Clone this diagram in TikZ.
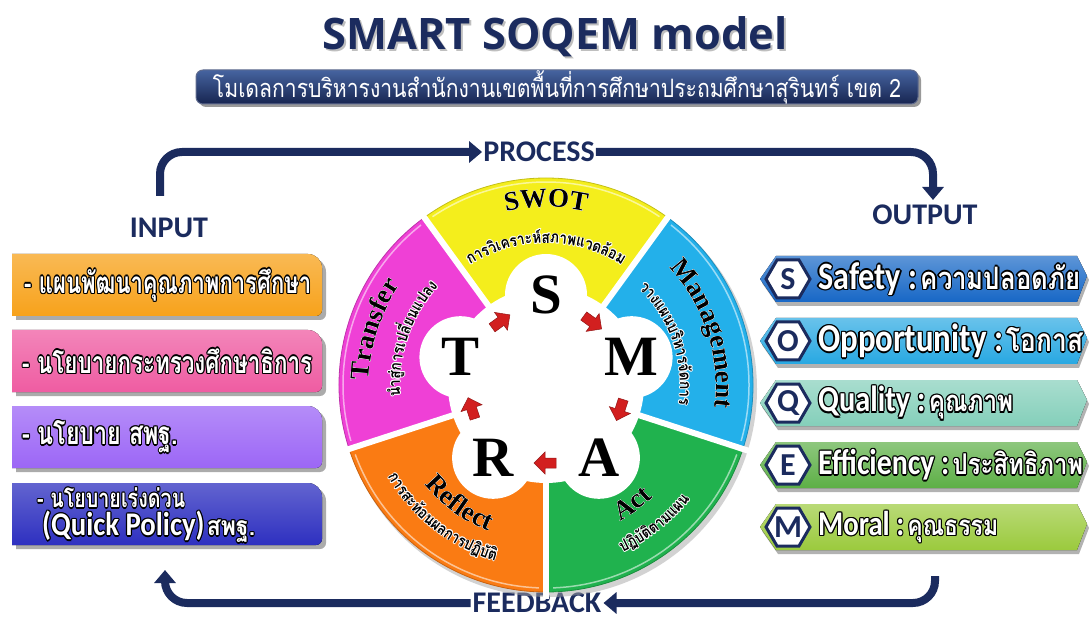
\documentclass[tikz,border=0pt]{standalone}
\usepackage{graphicx}
\usepackage{fontspec}
\usetikzlibrary{arrows.meta,calc,decorations.text}
\setmainfont{Liberation Serif}
\newfontfamily\calf{Carlito}
\newfontfamily\thaif[Script=Thai]{Loma}
\newfontfamily\opf{Open Sans}
\definecolor{navy}{HTML}{1B2B5E}
\definecolor{segY}{HTML}{F4EE1C}
\definecolor{segB}{HTML}{23B0EA}
\definecolor{segG}{HTML}{20B24E}
\definecolor{segO}{HTML}{FA7B13}
\definecolor{segP}{HTML}{EF40D6}
\definecolor{arrowred}{HTML}{D21F1F}
\definecolor{inO}{HTML}{F7A21B}
\definecolor{inP}{HTML}{EF5CA2}
\definecolor{inV}{HTML}{9C66F6}
\definecolor{inB}{HTML}{2E30C0}
\definecolor{oS}{HTML}{1767C6}
\definecolor{oO}{HTML}{28A8E2}
\definecolor{oQ}{HTML}{84CFBA}
\definecolor{oE}{HTML}{5DAF46}
\definecolor{oM}{HTML}{9BCA3D}

\newlength\hw \setlength\hw{1.2pt}
\newcommand\halo[3]{\leavevmode
 \rlap{\color{#1}\kern\hw #3}%
 \rlap{\color{#1}\kern-\hw #3}%
 \rlap{\color{#1}\raisebox{\hw}{#3}}%
 \rlap{\color{#1}\raisebox{-\hw}{#3}}%
 \rlap{\color{#1}\kern.7\hw\raisebox{.7\hw}{#3}}%
 \rlap{\color{#1}\kern-.7\hw\raisebox{.7\hw}{#3}}%
 \rlap{\color{#1}\kern.7\hw\raisebox{-.7\hw}{#3}}%
 \rlap{\color{#1}\kern-.7\hw\raisebox{-.7\hw}{#3}}%
 {\color{#2}#3}}

\makeatletter
\newcommand\dimnum[1]{\strip@pt#1}
\makeatother
\newdimen\arcw \newdimen\arctot
\newcommand\subf{\thaif\bfseries\fontsize{16}{16}\selectfont}
\newcommand\subbox[1]{\scalebox{0.85}[1]{\subf #1}}
\newcommand\segf{\bfseries\fontsize{27}{27}\selectfont}
% #1 radius, #2 mid angle, #3 dir (1 ccw tops inward, -1 cw tops outward), #4 chunks
\newcommand\thaiarc[4]{%
  \global\arctot=0pt
  \foreach \tch in {#4}{\path node[inner sep=0pt] at (0,0) {\setbox0=\hbox{\subbox{\tch}}\global\advance\arctot by \wd0};}%
  \edef\totnum{\dimnum\arctot}%
  \pgfmathsetmacro\arcstart{#2 - (#3)*(\totnum/2)/(#1)*180/pi}%
  \global\let\arccur\arcstart
  \foreach \tch in {#4}{%
    \path node[inner sep=0pt] at (0,0) {\setbox0=\hbox{\subbox{\tch}}\global\arcw=\wd0};
    \edef\wnum{\dimnum\arcw}%
    \pgfmathsetmacro\amid{\arccur + (#3)*(\wnum/2)/(#1)*180/pi}%
    \pgfmathsetmacro\arot{\amid + (#3)*90}%
    \node[anchor=base, inner sep=0pt, rotate=\arot] at ($(C)+(\amid:#1)$) {\setlength\hw{0.9pt}\halo{white}{black}{\subbox{\tch}}};
    \pgfmathsetmacro\anext{\arccur + (#3)*(\wnum)/(#1)*180/pi}%
    \global\let\arccur\anext
  }%
}
% #1 path, #2 text
\newcommand\curvelabel[2]{%
  \foreach \dx/\dy in {1.3/0,-1.3/0,0/1.3,0/-1.3,.9/.9,-.9/.9,.9/-.9,-.9/-.9}{%
    \path[shift={(\dx,\dy)}, decorate, decoration={text along path, text={|\segf\color{white}|#2}, text align=center}] #1;}%
  \path[decorate, decoration={text along path, text={|\segf\color{black}|#2}, text align=center}] #1;
}
\newcommand\inpath[1]{(12,#1-31) -- (12,#1+31) -- (308,#1+31) arc[start angle=90,end angle=0,radius=14] -- (322,#1-25) arc[start angle=0,end angle=-90,radius=6] -- cycle}
% #1 name, #2 y, #3 color
\newcommand\inbox[3]{%
  \fill[black!60, opacity=.55, shift={(4,-4)}] \inpath{#2};
  \fill[top color=#3!75!white, bottom color=#3] \inpath{#2};
  \coordinate (#1) at (12,#2);
}
\newcommand\outpath[1]{(760,#1) -- (776,#1+23) -- (1077,#1+23) -- (1087,#1+3) -- (1077,#1-23) -- (776,#1-23) -- cycle}
% #1 name, #2 y, #3 color, #4 letter, #5 text, #6 width
\newcommand\outbox[6]{%
  \fill[black!55, opacity=.55, shift={(2,-4)}] \outpath{#2};
  \fill[top color=#3!70!white, bottom color=#3] \outpath{#2};
  \draw[navy, line width=3pt, fill=white] (766,#2) -- (777,#2+19) -- (799,#2+19) -- (810,#2) -- (799,#2-19) -- (777,#2-19) -- cycle;
  \node[font=\calf\bfseries\fontsize{32}{32}\selectfont, text=navy, inner sep=0pt] (#1) at (788,#2) {#4};
  \node[anchor=west, inner sep=0pt] (#1t) at (818,#2) {\scalebox{1}[1.2]{\resizebox{#6}{!}{\halo{black}{white}{#5}}}};
}

\begin{document}
\begin{tikzpicture}[x=1pt,y=1pt,
  flow/.style={draw=navy,line width=8pt,rounded corners=22pt,-{Triangle[length=13pt,width=21pt]}},
  lbl/.style={font=\calf\bfseries\fontsize{30}{30}\selectfont,text=navy,inner sep=1pt}]
\useasboundingbox (0,0) rectangle (1089,619);

% ---------- title ----------
\node[text=black!25] at (557,580) {\resizebox{465pt}{!}{\opf\bfseries SMART SOQEM model}};
\node[text=navy] (title) at (555,582) {\resizebox{465pt}{!}{\opf\bfseries SMART SOQEM model}};
\fill[black!40, rounded corners=7pt] (199,512) rectangle (921,546);
\node[rounded corners=7pt, minimum width=722pt, minimum height=34pt, top color={rgb,255:red,70;green,100;blue,160}, bottom color=navy!85!black, draw=navy!70!white, line width=1pt] (sub) at (557,532) {};
\node[text=white, inner sep=0pt] (subt) at (557,532) {\scalebox{1}[1.2]{\resizebox{688pt}{!}{\thaif โมเดลการบริหารงานสำนักงานเขตพื้นที่การศึกษาประถมศึกษาสุรินทร์ เขต 2}}};

% ---------- flow labels and arrows ----------
\node[lbl] (process) at (539,467) {PROCESS};
\node[lbl] (input) at (169,391) {INPUT};
\node[lbl] (output) at (925,404) {OUTPUT};
\node[lbl, inner sep=0pt] (feedback) at (537,16) {FEEDBACK};
\coordinate (inTop) at (160,423);
\coordinate (outTop) at (933,419);
\coordinate (outBot) at (935,43);
\coordinate (inBot) at (165,49);
\draw[flow] (inTop) |- (process.west);
\draw[flow] (process.east) -| (outTop);
\draw[flow] (outBot) |- ([xshift=2pt]feedback.east);
\draw[flow] ([xshift=-2pt]feedback.west) -| (inBot);

% ---------- input boxes ----------
\inbox{in1}{334}{inO}
\inbox{in2}{258}{inP}
\inbox{in3}{182}{inV}
\inbox{in4}{105}{inB}
\node[anchor=west, inner sep=0pt] (in1t) at (24,334) {\scalebox{1}[1.35]{\resizebox{287pt}{!}{\halo{black}{white}{\thaif\bfseries\fontsize{24}{24}\selectfont - แผนพัฒนาคุณภาพการศึกษา}}}};
\node[anchor=west, inner sep=0pt] (in2t) at (22,258) {\scalebox{1}[1.35]{\resizebox{290pt}{!}{\halo{black}{white}{\thaif\bfseries\fontsize{24}{24}\selectfont - นโยบายกระทรวงศึกษาธิการ}}}};
\node[anchor=west, inner sep=0pt] (in3t) at (22,182) {\scalebox{1}[1.35]{\resizebox{156pt}{!}{\halo{black}{white}{\thaif\bfseries\fontsize{24}{24}\selectfont - นโยบาย สพฐ.}}}};
\node[anchor=west, inner sep=0pt] (in4t) at (37,121) {\scalebox{1}[1.3]{\resizebox{148pt}{!}{\halo{black}{white}{\thaif\bfseries\fontsize{24}{24}\selectfont - นโยบายเร่งด่วน}}}};
\node[anchor=west, inner sep=0pt] (in4u) at (42,92) {\scalebox{1}[1.15]{\resizebox{213pt}{!}{\halo{black}{white}{{\calf\bfseries\fontsize{30}{30}\selectfont (Quick Policy)} {\thaif\bfseries\fontsize{24}{24}\selectfont สพฐ.}}}}};

% ---------- output boxes ----------
\outbox{oS}{340}{oS}{S}{{\calf\bfseries\fontsize{30}{30}\selectfont Safety :} {\thaif\bfseries\fontsize{24}{24}\selectfont ความปลอดภัย}}{262pt}
\outbox{oO}{278}{oO}{O}{{\calf\bfseries\fontsize{30}{30}\selectfont Opportunity :} {\thaif\bfseries\fontsize{24}{24}\selectfont โอกาส}}{265pt}
\outbox{oQ}{216}{oQ}{Q}{{\calf\bfseries\fontsize{30}{30}\selectfont Quality :} {\thaif\bfseries\fontsize{24}{24}\selectfont คุณภาพ}}{195pt}
\outbox{oE}{154}{oE}{E}{{\calf\bfseries\fontsize{30}{30}\selectfont Efficiency :} {\thaif\bfseries\fontsize{24}{24}\selectfont ประสิทธิภาพ}}{265pt}
\outbox{oM}{92}{oM}{M}{{\calf\bfseries\fontsize{30}{30}\selectfont Moral :} {\thaif\bfseries\fontsize{24}{24}\selectfont คุณธรรม}}{180pt}

% ---------- wheel ----------
\coordinate (C) at (546,234);
\fill[black!35, opacity=.5] ($(C)+(3,-4)$) circle (208);
\foreach \a/\b/\col in {54/126/segY, 126/198/segP, 198/270/segO, 270/342/segG, -18/54/segB}{
  \fill[\col, draw=\col!80!black, line width=.8pt] ($(C)+(\a:97)$) arc[start angle=\a,end angle=\b,radius=97] -- ($(C)+(\b:207)$) arc[start angle=\b,end angle=\a,radius=207] -- cycle;
  \draw[white, opacity=.55, line width=1.5pt] ($(C)+(\a+2:203)$) arc[start angle=\a+2,end angle=\b-2,radius=203];
}
\foreach \a in {54,126,198,270,342}
  \draw[white, line width=6pt] (C) -- ($(C)+(\a:214)$);
\fill[white] (C) circle (98);
\foreach \a in {90,18,-54,-126,162}
  \fill[white] ($(C)+(\a:90)$) circle (41);

% letters
\node[font=\bfseries\fontsize{57}{57}\selectfont, inner sep=0pt] (LS) at ($(C)+(90:90)$) {S};
\node[font=\bfseries\fontsize{57}{57}\selectfont, inner sep=0pt] (LM) at ($(C)+(18:90)$) {M};
\node[font=\bfseries\fontsize{57}{57}\selectfont, inner sep=0pt] (LA) at ($(C)+(-54:90)$) {A};
\node[font=\bfseries\fontsize{57}{57}\selectfont, inner sep=0pt] (LR) at ($(C)+(-126:90)$) {R};
\node[font=\bfseries\fontsize{57}{57}\selectfont, inner sep=0pt] (LT) at ($(C)+(162:90)$) {T};

% red cycle arrows
\foreach \a in {126,54,-18,-90,198}{
  \fill[arrowred, draw=arrowred!70!black, line width=.5pt, shift={($(C)+(\a:78)$)}, rotate=\a-90] (-10,-5) -- (1,-5) -- (1,-11) -- (12,0) -- (1,11) -- (1,5) -- (-10,5) -- cycle;
}

% segment titles
\curvelabel{($(C)+(126:178)$) arc[start angle=126,end angle=54,radius=178]}{SWOT}
\curvelabel{($(C)+(54:170)$) arc[start angle=54,end angle=-18,radius=170]}{Management}
\curvelabel{($(C)+(198:177)$) arc[start angle=198,end angle=126,radius=177]}{Transfer}
\curvelabel{($(C)+(198:157)$) arc[start angle=198,end angle=270,radius=157]}{Reflect}
\curvelabel{($(C)+(270:155)$) arc[start angle=270,end angle=342,radius=155]}{Act}

% segment subtitles
\thaiarc{142}{90}{-1}{ก,า,ร,วิ,เ,ค,ร,า,ะ,ห์,ส,ภ,า,พ,แ,ว,ด,ล้,อ,ม}
\thaiarc{134}{19}{-1}{ว,า,ง,แ,ผ,น,บ,ริ,ห,า,ร,จั,ด,ก,า,ร}
\thaiarc{146}{161}{-1}{นำ,สู่,ก,า,ร,เ,ป,ลี่,ย,น,แ,ป,ล,ง}
\thaiarc{183}{-128}{1}{ก,า,ร,ส,ะ,ท้,อ,น,ผ,ล,ก,า,ร,ป,ฏิ,บั,ติ}
\thaiarc{184}{-52}{1}{ป,ฏิ,บั,ติ,ต,า,ม,แ,ผ,น}
\end{tikzpicture}
\end{document}
